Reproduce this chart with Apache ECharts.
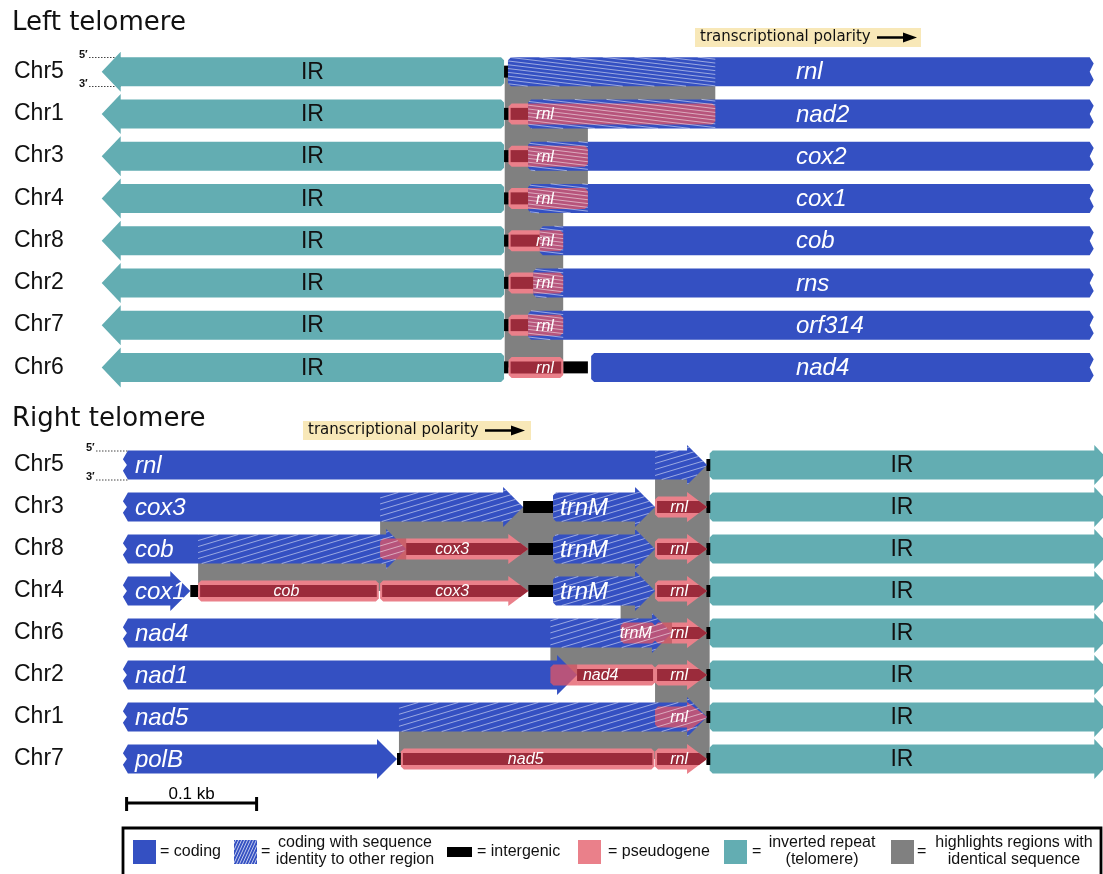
<!DOCTYPE html>
<html><head><meta charset="utf-8">
<script src="https://cdn.jsdelivr.net/npm/echarts@6/dist/echarts.min.js"></script>
<style>html,body{margin:0;padding:0;background:#fff}#c{width:1103px;height:874px}</style>
</head><body><div id="c"></div>
<script>
// ================= DATA (positions in bp, measured from the IR / telomere junction) =================
const topRows = ['Chr5','Chr1','Chr3','Chr4','Chr8','Chr2','Chr7','Chr6'];
const bottomRows = ['Chr5','Chr3','Chr8','Chr4','Chr6','Chr2','Chr1','Chr7'];
const scaleBarBp = [-448, -348]; // 0.1 kb
const scaleBarLabel = '0.1 kb';

// ---- Left telomere ----  [row, start, end]
const topIR = [[0,-311,-1.5],[1,-311,-1.5],[2,-311,-1.5],[3,-311,-1.5],[4,-311,-1.5],[5,-311,-1.5],[6,-311,-1.5],[7,-311,-1.5]];
const topIntergenic = [[0,-1.5,2],[1,-1.5,2],[2,-1.5,2],[3,-1.5,2],[4,-1.5,2],[5,-1.5,2],[6,-1.5,2],[7,-1.5,2],[7,44,63]];
// [row, start, end, gene]
const topCoding = [[0,1.5,449,'rnl'],[1,17,449,'nad2'],[2,17,449,'cox2'],[3,17,449,'cox1'],[4,26,449,'cob'],[5,21,449,'rns'],[6,17,449,'orf314'],[7,65.5,449,'nad4']];
const topHatched = [[0,1.5,161],[1,17,161],[2,17,63],[3,17,63],[4,26,44],[5,21,44],[6,17,44]];
const topPseudo = [[1,2,161,'rnl'],[2,2,63,'rnl'],[3,2,63,'rnl'],[4,2,44,'rnl'],[5,2,44,'rnl'],[6,2,44,'rnl'],[7,2,44,'rnl']];
// identical-sequence highlight between two rows: [rowA, rowB, start, end]
const topIdentity = [[0,1,-1,161],[1,2,-1,63],[2,3,-1,63],[3,4,-1,44],[4,5,-1,44],[5,6,-1,44],[6,7,-1,44]];

// ---- Right telomere ----
const bottomIR = [[0,0.5,311],[1,0.5,311],[2,0.5,311],[3,0.5,311],[4,0.5,311],[5,0.5,311],[6,0.5,311],[7,0.5,311]];
const bottomIntergenic = [[0,-2,1],[1,-2,1],[2,-2,1],[3,-2,1],[4,-2,1],[5,-2,1],[6,-2,1],[7,-2,1],
  [1,-143,-120],[2,-139,-120],[3,-399,-393],[3,-139,-120],[7,-240,-237]];
// [row, start, end, gene, left end]
const bottomCoding = [[0,-447,-1.5,'rnl','torn'],
  [1,-447,-143,'cox3','torn'],[1,-120,-41.5,'trnM','round'],
  [2,-447,-233,'cob','torn'],[2,-120,-41.5,'trnM','round'],
  [3,-447,-399,'cox1','torn'],[3,-120,-41.5,'trnM','round'],
  [4,-447,-28.5,'nad4','torn'],
  [5,-447,-101.5,'nad1','torn'],
  [6,-447,-1.5,'nad5','torn'],
  [7,-447,-240,'polB','torn']];
const bottomHatched = [[0,-41.5,-1.5],[1,-253,-143],[1,-120,-41.5],[2,-393,-233],[2,-120,-41.5],[3,-120,-41.5],[4,-122,-28.5],[6,-238.5,-1.5]];
// [row, start, end, gene, shape]
const bottomPseudo = [[1,-41.5,-1.5,'rnl','arrow'],
  [2,-253,-139,'cox3','arrow'],[2,-41.5,-1.5,'rnl','arrow'],
  [3,-393,-254,'cob','box'],[3,-253,-139,'cox3','arrow'],[3,-41.5,-1.5,'rnl','arrow'],
  [4,-68,-41.5,'trnM','box'],[4,-41.5,-1.5,'rnl','arrow'],
  [5,-122,-41.5,'nad4','box'],[5,-41.5,-1.5,'rnl','arrow'],
  [6,-41.5,-1.5,'rnl','arrow'],
  [7,-237,-42,'nad5','box'],[7,-41.5,-1.5,'rnl','arrow']];
const bottomIdentity = [[0,1,-41.5,0.5],[1,2,-253,0.5],[2,3,-393,0.5],[3,4,-68,0.5],[4,5,-122,0.5],[5,6,-41.5,0.5],[6,7,-238.5,0.5]];

// ================= STYLE =================
const W = 1103, PX_PER_BP = 1.3;
const TOP_J = 506, BOT_J = 709;
const FONT = '"Liberation Sans", Arial, Helvetica, sans-serif';
const BLUE = '#3450c2', TEAL = '#63adb2', GRAY = '#808080', PINK = '#ea808a',
      PINK_OV = 'rgba(227,86,99,0.75)', DARKRED = '#9b2b3b', HATCH = 'rgba(255,255,255,0.5)';
const TOP_LABEL_BP = 223;

// ================= GEOMETRY HELPERS =================
function shapePts(x0, x1, yc, h, hh, headLen, L, R) {
  const t = yc - h / 2, b = yc + h / 2, r = 3, hl = Math.min(headLen, x1 - x0);
  const pts = [];
  if (L === 'arrow') pts.push([x0 + hl, t]);
  else if (L === 'round') pts.push([x0 + r, t]);
  else pts.push([x0, t]);
  if (R === 'arrow') { const xb = x1 - hl; pts.push([xb, t], [xb, yc - hh / 2], [x1, yc], [xb, yc + hh / 2], [xb, b]); }
  else if (R === 'round') pts.push([x1 - r, t], [x1, t + r], [x1, b - r], [x1 - r, b]);
  else if (R === 'torn') pts.push([x1, t], [x1 + 4, t + h * 0.22], [x1, yc], [x1 + 4, b - h * 0.22], [x1, b]);
  else pts.push([x1, t], [x1, b]);
  if (L === 'arrow') { const xb = x0 + hl; pts.push([xb, b], [xb, yc + hh / 2], [x0, yc], [xb, yc - hh / 2]); }
  else if (L === 'round') pts.push([x0 + r, b], [x0, b - r], [x0, t + r]);
  else if (L === 'torn') pts.push([x0, b], [x0 - 5, b - h * 0.3], [x0 - 1, yc], [x0 - 5, t + h * 0.3]);
  else pts.push([x0, b]);
  return pts;
}
function clipH(poly, xc, keepGreater) {
  const res = [], n = poly.length;
  const ins = p => keepGreater ? p[0] >= xc : p[0] <= xc;
  const ix = (p, q) => { const t = (xc - p[0]) / (q[0] - p[0]); return [xc, p[1] + t * (q[1] - p[1])]; };
  for (let i = 0; i < n; i++) {
    const cur = poly[i], prev = poly[(i + n - 1) % n];
    const ci = ins(cur), pi = ins(prev);
    if (ci) { if (!pi) res.push(ix(prev, cur)); res.push(cur); }
    else if (pi) res.push(ix(prev, cur));
  }
  return res;
}
function clipX(poly, a, b) { return clipH(clipH(poly, a, true), b, false); }
function hatchLines(poly, m, sp, stroke, lw) {
  const out = [];
  if (poly.length < 3) return out;
  let fmin = Infinity, fmax = -Infinity;
  poly.forEach(p => { const f = p[1] - m * p[0]; fmin = Math.min(fmin, f); fmax = Math.max(fmax, f); });
  for (let k = Math.ceil(fmin / sp) * sp; k <= fmax; k += sp) {
    const xs = [];
    for (let i = 0; i < poly.length; i++) {
      const a = poly[i], b = poly[(i + 1) % poly.length];
      const fa = a[1] - m * a[0] - k, fb = b[1] - m * b[0] - k;
      if ((fa > 0) !== (fb > 0)) { const t = fa / (fa - fb); xs.push([a[0] + t * (b[0] - a[0]), a[1] + t * (b[1] - a[1])]); }
    }
    xs.sort((p, q) => p[0] - q[0]);
    for (let i = 0; i + 1 < xs.length; i += 2)
      out.push({ type: 'line', shape: { x1: xs[i][0], y1: xs[i][1], x2: xs[i + 1][0], y2: xs[i + 1][1] }, style: { stroke: stroke || HATCH, lineWidth: lw || 1 } });
  }
  return out;
}
function splitIntervals(s, e, list) {
  const over = [];
  list.forEach(iv => { const a = Math.max(s, iv[0]), b = Math.min(e, iv[1]); if (b > a) over.push([a, b]); });
  over.sort((p, q) => p[0] - q[0]);
  const free = []; let cur = s;
  over.forEach(iv => { if (iv[0] > cur) free.push([cur, iv[0]]); cur = Math.max(cur, iv[1]); });
  if (cur < e) free.push([cur, e]);
  return { free, over };
}

// ================= PANEL CONFIG =================
const panels = {
  top: { grid: 0, IR: topIR, inter: topIntergenic, coding: topCoding, hatched: topHatched, pseudo: topPseudo, ident: topIdentity,
         hatchSlope: 0.12, hatchSp: 3.8 },
  bottom: { grid: 1, IR: bottomIR, inter: bottomIntergenic, coding: bottomCoding, hatched: bottomHatched, pseudo: bottomPseudo, ident: bottomIdentity,
         hatchSlope: -0.3, hatchSp: 6 }
};

function codingPoly(pname, c, api) {
  const p0 = api.coord([c[1], c[0]]), p1 = api.coord([c[2], c[0]]);
  if (pname === 'top') return shapePts(p0[0], p1[0], p0[1], 29, 40, 20, 'round', 'torn');
  return shapePts(p0[0], p1[0], p0[1], 29, 40, 20, c[4], 'arrow');
}
function pseudoPoly(pname, d, api) {
  const p0 = api.coord([d[1], d[0]]), p1 = api.coord([d[2], d[0]]);
  const R = (pname === 'top' || d[4] === 'box') ? 'round' : 'arrow';
  return { outer: shapePts(p0[0], p1[0], p0[1], 21, 30, 20, 'round', R),
           band: R === 'arrow'
             ? [[p0[0] + 2, p0[1] - 6], [p1[0] - 8, p0[1] - 6], [p1[0], p0[1]], [p1[0] - 8, p0[1] + 6], [p0[0] + 2, p0[1] + 6]]
             : [[p0[0] + 2, p0[1] - 6], [p1[0] - 2, p0[1] - 6], [p1[0] - 2, p0[1] + 6], [p0[0] + 2, p0[1] + 6]] };
}
function poly(points, fill) { return { type: 'polygon', shape: { points }, style: { fill } }; }
function txt(text, x, y, font, fill, align) {
  return { type: 'text', style: { text, x, y, font, fill, align: align || 'center', verticalAlign: 'middle' } };
}
function mk(pname, name, data, render, z, enc) {
  const g = panels[pname].grid;
  return { type: 'custom', name, xAxisIndex: g, yAxisIndex: g, data, renderItem: render, z, silent: true,
           animation: false, clip: false, encode: enc || { x: [0, 1], y: 2 } };
}

function buildSeries(pname) {
  const P = panels[pname];
  const S = [];
  S.push(mk(pname, 'identity', P.ident.map(d => [d[2], d[3], d[0], d[1]]), (params, api) => {
    const a = api.coord([api.value(0), api.value(2)]), b = api.coord([api.value(1), api.value(3)]);
    return { type: 'rect', shape: { x: a[0], y: a[1], width: b[0] - a[0], height: b[1] - a[1] }, style: { fill: GRAY } };
  }, 1, { x: [0, 1], y: [2, 3] }));
  S.push(mk(pname, 'IR', P.IR.map(d => [d[1], d[2], d[0]]), (params, api) => {
    const r = api.value(2), a = api.coord([api.value(0), r]), b = api.coord([api.value(1), r]);
    const pts = pname === 'top' ? shapePts(a[0], b[0], a[1], 29, 40, 19, 'arrow', 'round')
                                : shapePts(a[0], b[0], a[1], 29, 40, 19, 'round', 'arrow');
    const cx = pname === 'top' ? (a[0] + 19 + b[0]) / 2 : (a[0] + b[0] - 19) / 2;
    return { type: 'group', children: [poly(pts, TEAL), txt('IR', cx, a[1] + 1, '23px ' + FONT, '#111')] };
  }, 2));
  S.push(mk(pname, 'intergenic', P.inter.map(d => [d[1], d[2], d[0]]), (params, api) => {
    const r = api.value(2), a = api.coord([api.value(0), r]), b = api.coord([api.value(1), r]);
    return { type: 'rect', shape: { x: a[0], y: a[1] - 6, width: b[0] - a[0], height: 12 }, style: { fill: '#000' } };
  }, 3));
  S.push(mk(pname, 'coding', P.coding.map(d => [d[1], d[2], d[0]]), (params, api) => {
    return poly(codingPoly(pname, P.coding[params.dataIndex], api), BLUE);
  }, 4));
  S.push(mk(pname, 'pseudogene', P.pseudo.map(d => [d[1], d[2], d[0]]), (params, api) => {
    const d = P.pseudo[params.dataIndex];
    const blue = P.coding.filter(c => c[0] === d[0]).map(c => [c[1], c[2]]);
    const sp = splitIntervals(d[1], d[2], blue);
    const g = pseudoPoly(pname, d, api);
    const ch = [];
    const px = v => api.coord([v, d[0]])[0];
    sp.free.forEach(iv => {
      const a = iv[0] <= d[1] ? -1e4 : px(iv[0]), b = iv[1] >= d[2] ? 1e4 : px(iv[1]);
      ch.push(poly(clipX(g.outer, a, b), PINK));
      ch.push(poly(clipX(g.band, a, b), DARKRED));
    });
    sp.over.forEach(iv => {
      const a = iv[0] <= d[1] ? -1e4 : px(iv[0]), b = iv[1] >= d[2] ? 1e4 : px(iv[1]);
      ch.push(poly(clipX(g.outer, a, b), PINK_OV));
    });
    return { type: 'group', children: ch };
  }, 5));
  S.push(mk(pname, 'hatched', P.hatched.map(d => [d[1], d[2], d[0]]), (params, api) => {
    const h = P.hatched[params.dataIndex];
    const c = P.coding.find(c => c[0] === h[0] && c[1] <= h[1] + 0.01 && c[2] >= h[2] - 0.01);
    const pts = codingPoly(pname, c, api);
    const a = h[1] <= c[1] ? -1e4 : api.coord([h[1], h[0]])[0];
    const b = h[2] >= c[2] ? 1e4 : api.coord([h[2], h[0]])[0];
    return { type: 'group', children: hatchLines(clipX(pts, a, b), P.hatchSlope, P.hatchSp) };
  }, 6));
  S.push(mk(pname, 'codingLabels', P.coding.map(d => [d[1], d[2], d[0]]), (params, api) => {
    const c = P.coding[params.dataIndex];
    const a = api.coord([c[1], c[0]]);
    if (pname === 'top') {
      const lx = api.coord([TOP_LABEL_BP, c[0]])[0];
      return txt(c[3], lx, a[1] + 1, 'italic 24px ' + FONT, '#fff', 'left');
    }
    return txt(c[3], a[0] + 7, a[1] + 1, 'italic 24px ' + FONT, '#fff', 'left');
  }, 7));
  S.push(mk(pname, 'pseudoLabels', P.pseudo.map(d => [d[1], d[2], d[0]]), (params, api) => {
    const d = P.pseudo[params.dataIndex];
    const a = api.coord([d[1], d[0]]), b = api.coord([d[2], d[0]]);
    const cx = pname === 'top' ? api.coord([d[1] + 28, d[0]])[0] : (a[0] + b[0]) / 2 - 2;
    return txt(d[3], cx, a[1] + 1, 'italic 16px ' + FONT, '#fff');
  }, 7));
  return S;
}

const series = buildSeries('top').concat(buildSeries('bottom'));
series.push({
  type: 'custom', xAxisIndex: 1, yAxisIndex: 1, silent: true, animation: false, clip: false, z: 7,
  data: [[scaleBarBp[0], scaleBarBp[1], 7]], encode: { x: [0, 1], y: 2 },
  renderItem: (params, api) => {
    const a = api.coord([api.value(0), api.value(2)]), b = api.coord([api.value(1), api.value(2)]);
    const y = a[1] + 44;
    return { type: 'group', children: [
      { type: 'line', shape: { x1: a[0], y1: y, x2: b[0], y2: y }, style: { stroke: '#000', lineWidth: 3 } },
      { type: 'line', shape: { x1: a[0], y1: y - 6, x2: a[0], y2: y + 8 }, style: { stroke: '#000', lineWidth: 3 } },
      { type: 'line', shape: { x1: b[0], y1: y - 6, x2: b[0], y2: y + 8 }, style: { stroke: '#000', lineWidth: 3 } },
      txt(scaleBarLabel, (a[0] + b[0]) / 2, y - 9, '17px ' + FONT, '#000')
    ] };
  }
});

// ================= ANNOTATIONS (titles, polarity, legend) =================
function polarity(x, y, w) {
  return [
    { type: 'rect', shape: { x, y, width: w, height: 19 }, style: { fill: '#f8e8b8' } },
    { type: 'text', style: { text: 'transcriptional polarity', x: x + 5, y: y + 9.5, font: '15px "DejaVu Sans", sans-serif', fill: '#111', verticalAlign: 'middle' } },
    { type: 'line', shape: { x1: x + 182, y1: y + 9.5, x2: x + 212, y2: y + 9.5 }, style: { stroke: '#000', lineWidth: 2.5 } },
    { type: 'polygon', shape: { points: [[x + 208, y + 4.5], [x + 222, y + 9.5], [x + 208, y + 14.5]] }, style: { fill: '#000' } }
  ];
}
function primeMarks(x, yTop, yBot, x2) {
  const out = [];
  [[yTop, '5\u2032'], [yBot, '3\u2032']].forEach(([y, t]) => {
    out.push({ type: 'text', style: { text: t, x, y: y - 3, font: 'bold 11px ' + FONT, fill: '#111', verticalAlign: 'middle' } });
    out.push({ type: 'line', shape: { x1: x + 10, y1: y, x2, y2: y }, style: { stroke: '#444', lineWidth: 1, lineDash: [1.5, 1.5] } });
  });
  return out;
}
function legend() {
  const y0 = 840, out = [];
  out.push({ type: 'rect', shape: { x: 123, y: 828, width: 978, height: 60 }, style: { fill: 'none', stroke: '#000', lineWidth: 2.8 } });
  const sq = (x, fill) => out.push({ type: 'rect', shape: { x, y: y0, width: 23, height: 24 }, style: { fill } });
  const t1 = (x, s) => out.push({ type: 'text', style: { text: s, x, y: y0 + 12, font: '16px ' + FONT, fill: '#111', verticalAlign: 'middle' } });
  const t2 = (x, s) => out.push({ type: 'text', style: { text: s, x, y: y0 + 11, font: '16px ' + FONT, fill: '#111', align: 'center', verticalAlign: 'middle', lineHeight: 17 } });
  sq(133, BLUE); t1(160, '= coding');
  sq(234, BLUE);
  const hp = [[234, y0], [257, y0], [257, y0 + 24], [234, y0 + 24]];
  hatchLines(hp, -2.2, 6.5, 'rgba(255,255,255,0.7)', 1).forEach(l => out.push(l));
  t1(261, '='); t2(355, 'coding with sequence\nidentity to other region');
  out.push({ type: 'rect', shape: { x: 447, y: y0 + 7, width: 25, height: 10 }, style: { fill: '#000' } });
  t1(477, '= intergenic');
  sq(578, PINK); t1(608, '= pseudogene');
  sq(724, TEAL); t1(752, '='); t2(822, 'inverted repeat\n(telomere)');
  sq(891, GRAY); t1(917, '='); t2(1014, 'highlights regions with\nidentical sequence');
  return out;
}

const graphic = [
  { type: 'text', style: { text: 'Left telomere', x: 12, y: 23, font: '26px "DejaVu Sans", sans-serif', fill: '#111', verticalAlign: 'middle' } },
  { type: 'text', style: { text: 'Right telomere', x: 12, y: 419, font: '26px "DejaVu Sans", sans-serif', fill: '#111', verticalAlign: 'middle' } }
].concat(polarity(695, 28, 226), polarity(303, 421, 228), primeMarks(79, 57.5, 86.5, 121), primeMarks(86, 451, 480, 128), legend());

const yAxisCommon = { type: 'category', inverse: true, axisLine: { show: false }, axisTick: { show: false }, splitLine: { show: false },
  axisLabel: { inside: true, margin: 14, fontSize: 23, color: '#111', fontFamily: FONT } };

const chart = echarts.init(document.getElementById('c'), null, { renderer: 'canvas' });
chart.setOption({
  backgroundColor: '#fff',
  animation: false,
  grid: [{ left: 0, right: 0, top: 50.5, height: 338 }, { left: 0, right: 0, top: 444, height: 336 }],
  xAxis: [
    { gridIndex: 0, type: 'value', min: -TOP_J / PX_PER_BP, max: (W - TOP_J) / PX_PER_BP, show: false },
    { gridIndex: 1, type: 'value', min: -BOT_J / PX_PER_BP, max: (W - BOT_J) / PX_PER_BP, show: false }
  ],
  yAxis: [
    Object.assign({ gridIndex: 0, data: topRows }, yAxisCommon),
    Object.assign({ gridIndex: 1, data: bottomRows }, yAxisCommon)
  ],
  series,
  graphic
});
</script></body></html>
